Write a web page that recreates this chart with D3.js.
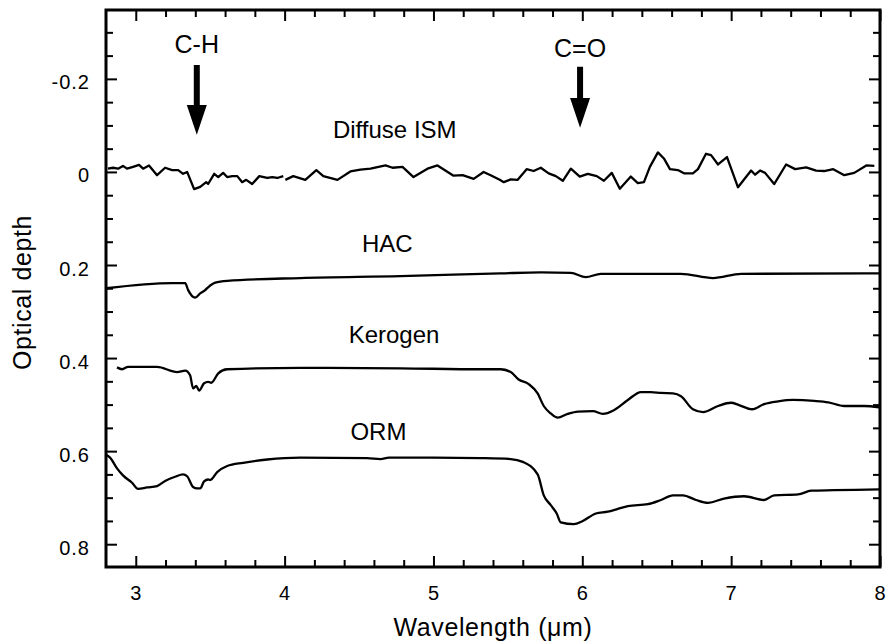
<!DOCTYPE html>
<html lang="en">
<head>
<meta charset="utf-8">
<title>Optical depth spectra</title>
<script src="https://cdn.jsdelivr.net/npm/d3@7"></script>
<style>
	body { margin: 0; background: #fff; }
	text { font-family: "Liberation Sans", Arial, Helvetica, sans-serif; fill: #000; }
</style>
</head>
<body>
<script>

// Diffuse ISM (noisy, one gap near 4 um marked with null)
var ismWave = [2.813, 2.847, 2.881, 2.914, 2.941, 2.982, 3.022, 3.049, 3.089, 3.143, 3.197, 3.244, 3.285, 3.318, 3.345, 3.392, 3.433, 3.473, 3.486, 3.527, 3.554, 3.587, 3.614, 3.648, 3.682, 3.715, 3.742, 3.782, 3.830, 3.883, 3.917, 3.951, 3.991,
	null,
	4.005, 4.058, 4.139, 4.213, 4.260, 4.355, 4.442, 4.509, 4.577, 4.678, 4.725, 4.792, 4.866, 4.960, 5.027, 5.135, 5.196, 5.270, 5.337, 5.384, 5.445, 5.472, 5.519, 5.566, 5.626, 5.673, 5.721, 5.774, 5.822, 5.869, 5.923, 5.983, 6.037, 6.097, 6.145, 6.198, 6.252, 6.326, 6.373, 6.414, 6.454, 6.508, 6.548, 6.589, 6.642, 6.683, 6.743, 6.777, 6.831, 6.865, 6.912, 6.972, 7.046, 7.134, 7.161, 7.194, 7.228, 7.289, 7.369, 7.430, 7.504, 7.571, 7.625, 7.686, 7.760, 7.827, 7.908, 7.962];
var ismDepth = [-0.007, -0.009, -0.007, -0.013, -0.007, -0.011, -0.015, -0.007, -0.014, 0.007, -0.009, -0.004, -0.004, 0.004, 0.000, 0.037, 0.032, 0.022, 0.026, 0.004, 0.011, 0.002, 0.011, 0.009, 0.009, 0.022, 0.017, 0.026, 0.009, 0.013, 0.011, 0.013, 0.009,
	null,
	0.017, 0.009, 0.017, -0.004, 0.009, 0.017, -0.001, -0.005, -0.007, -0.014, -0.009, -0.011, 0.011, -0.007, -0.014, 0.008, 0.007, 0.015, 0.000, 0.007, 0.017, 0.022, 0.016, 0.017, -0.006, -0.002, -0.009, 0.003, 0.009, 0.019, -0.007, 0.010, 0.004, 0.009, 0.019, 0.002, 0.036, 0.010, 0.024, 0.022, -0.011, -0.042, -0.029, -0.006, -0.004, 0.003, 0.003, -0.006, -0.039, -0.036, -0.016, -0.032, 0.033, -0.003, 0.006, -0.003, 0.002, 0.026, -0.016, -0.006, -0.010, -0.003, -0.002, -0.006, 0.007, 0.002, -0.014, -0.013];

// HAC
var hacWave  = [2.800, 3.244, 3.332, 3.352, 3.399, 3.433, 3.466, 3.486, 3.534, 3.614, 4.106, 4.778, 5.451, 5.721, 5.923, 6.023, 6.124, 6.663, 6.878, 7.067, 8.000];
var hacDepth = [0.250, 0.239, 0.239, 0.254, 0.270, 0.261, 0.254, 0.248, 0.238, 0.234, 0.228, 0.224, 0.218, 0.216, 0.217, 0.226, 0.219, 0.219, 0.228, 0.219, 0.218];

// Kerogen
var kerWave  = [2.874, 2.908, 2.948, 3.143, 3.278, 3.332, 3.365, 3.385, 3.406, 3.426, 3.459, 3.486, 3.507, 3.554, 3.614, 4.106, 4.778, 5.317, 5.451, 5.519, 5.572, 5.640, 5.700, 5.741, 5.788, 5.835, 5.902, 5.970, 6.071, 6.138, 6.212, 6.306, 6.394, 6.461, 6.528, 6.609, 6.663, 6.743, 6.811, 6.912, 6.999, 7.053, 7.141, 7.221, 7.316, 7.416, 7.558, 7.652, 7.760, 7.894, 7.995];
var kerDepth = [0.420, 0.424, 0.419, 0.419, 0.430, 0.427, 0.437, 0.465, 0.460, 0.470, 0.454, 0.451, 0.453, 0.433, 0.424, 0.421, 0.422, 0.424, 0.424, 0.430, 0.446, 0.456, 0.476, 0.503, 0.519, 0.528, 0.520, 0.515, 0.514, 0.520, 0.512, 0.490, 0.473, 0.473, 0.475, 0.476, 0.482, 0.510, 0.516, 0.503, 0.496, 0.501, 0.510, 0.499, 0.493, 0.490, 0.492, 0.495, 0.503, 0.503, 0.506];

// ORM
var ormWave  = [2.800, 2.827, 2.874, 2.914, 2.975, 3.015, 3.076, 3.143, 3.197, 3.264, 3.318, 3.345, 3.385, 3.412, 3.433, 3.459, 3.486, 3.500, 3.547, 3.614, 3.722, 3.883, 4.106, 4.556, 4.644, 4.700, 5.000, 5.317, 5.519, 5.600, 5.700, 5.741, 5.788, 5.828, 5.855, 5.943, 6.003, 6.091, 6.171, 6.239, 6.306, 6.441, 6.528, 6.609, 6.676, 6.764, 6.844, 6.952, 7.087, 7.221, 7.289, 7.450, 7.538, 7.692, 7.995];
var ormDepth = [0.608, 0.614, 0.637, 0.652, 0.668, 0.681, 0.678, 0.675, 0.664, 0.655, 0.650, 0.654, 0.677, 0.680, 0.680, 0.665, 0.661, 0.662, 0.645, 0.632, 0.625, 0.618, 0.614, 0.615, 0.617, 0.614, 0.614, 0.615, 0.617, 0.623, 0.650, 0.695, 0.716, 0.734, 0.753, 0.757, 0.750, 0.734, 0.730, 0.724, 0.718, 0.714, 0.705, 0.695, 0.695, 0.705, 0.711, 0.702, 0.697, 0.705, 0.695, 0.693, 0.685, 0.684, 0.682];

// Axis ticks
var xTicks = [3, 4, 5, 6, 7, 8];
var yTicks = [-0.2, 0, 0.2, 0.4, 0.6, 0.8];

// Labels and arrows (wavelength, depth)
var seriesLabels = [
	{ text: "Diffuse ISM", x: 4.74, y: -0.073 },
	{ text: "HAC",         x: 4.69, y: 0.172 },
	{ text: "Kerogen",     x: 4.735, y: 0.368 },
	{ text: "ORM",         x: 4.63, y: 0.576 }
];
var bandLabels = [
	{ text: "C-H", x: 3.41, y: -0.256, top: -0.230, head: -0.144, tip: -0.080 },
	{ text: "C=O", x: 5.985, y: -0.247, top: -0.226, head: -0.159, tip: -0.095 }
];

//Width and height
var w = 890;
var h = 643;

var xScale = d3.scaleLinear().domain([2.8, 8]).range([106, 880]);
var yScale = d3.scaleLinear().domain([-0.348, 0.849]).range([10, 567]);

var svg = d3.select("body")
	.append("svg")
	.attr("width", w)
	.attr("height", h);

svg.append("rect").attr("width", w).attr("height", h).attr("fill", "#fff");

var x0 = xScale.range()[0], x1 = xScale.range()[1];
var y0 = yScale.range()[0], y1 = yScale.range()[1];

//minor ticks (skip majors)
var xMinor = d3.range(28, 81, 2).map(function(d) { return d / 10; })
	.filter(function(d) { return xTicks.indexOf(d) < 0 && d > 2.8; });
var yMinor = d3.range(-30, 85, 5).map(function(d) { return d / 100; })
	.filter(function(d) { return yTicks.indexOf(d) < 0; });

function fmt(d) { return String(+d.toFixed(1)); }

function addAxis(axis, tx, ty) {
	var g = svg.append("g")
		.attr("transform", "translate(" + tx + "," + ty + ")")
		.call(axis);
	g.select(".domain").remove();
	g.selectAll(".tick line").attr("stroke", "#000").attr("stroke-width", 2);
	return g;
}

// bottom + left with labels
var gx = addAxis(d3.axisBottom(xScale).tickValues(xTicks).tickSize(-11).tickPadding(20).tickFormat(fmt), 0, y1);
addAxis(d3.axisBottom(xScale).tickValues(xMinor).tickSize(-7).tickFormat(""), 0, y1);
var gy = addAxis(d3.axisLeft(yScale).tickValues(yTicks).tickSize(-11).tickPadding(16).tickFormat(fmt), x0, 0);
addAxis(d3.axisLeft(yScale).tickValues(yMinor).tickSize(-7).tickFormat(""), x0, 0);

// top + right, ticks only
addAxis(d3.axisTop(xScale).tickValues(xTicks).tickSize(-11).tickFormat(""), 0, y0);
addAxis(d3.axisTop(xScale).tickValues(xMinor).tickSize(-7).tickFormat(""), 0, y0);
addAxis(d3.axisRight(yScale).tickValues(yTicks).tickSize(-11).tickFormat(""), x1, 0);
addAxis(d3.axisRight(yScale).tickValues(yMinor).tickSize(-7).tickFormat(""), x1, 0);

gx.selectAll(".tick text")
	.attr("font-size", 20).attr("font-family", null).attr("letter-spacing", 1).attr("dy", "0.66em");
gy.selectAll(".tick text")
	.attr("font-size", 20).attr("font-family", null).attr("letter-spacing", 1).attr("dy", "0.5em");

// frame
svg.append("rect")
	.attr("x", x0).attr("y", y0)
	.attr("width", x1 - x0).attr("height", y1 - y0)
	.attr("fill", "none").attr("stroke", "#000").attr("stroke-width", 3);

// curves
var lineJag = d3.line()
	.defined(function(d) { return d[0] != null; })
	.x(function(d) { return xScale(d[0]); })
	.y(function(d) { return yScale(d[1]); });

var lineSmooth = d3.line()
	.curve(d3.curveMonotoneX)
	.x(function(d) { return xScale(d[0]); })
	.y(function(d) { return yScale(d[1]); });

var series = [
	{ pts: d3.zip(ismWave, ismDepth), gen: lineJag },
	{ pts: d3.zip(hacWave, hacDepth), gen: lineSmooth },
	{ pts: d3.zip(kerWave, kerDepth), gen: lineSmooth },
	{ pts: d3.zip(ormWave, ormDepth), gen: lineSmooth }
];

svg.selectAll("path.spec")
	.data(series)
	.enter()
	.append("path")
	.attr("class", "spec")
	.attr("d", function(d) { return d.gen(d.pts); })
	.attr("fill", "none")
	.attr("stroke", "#000")
	.attr("stroke-width", 2.3)
	.attr("stroke-linejoin", "round");

// series labels
svg.selectAll("text.lab")
	.data(seriesLabels)
	.enter()
	.append("text")
	.attr("class", "lab")
	.attr("x", function(d) { return xScale(d.x); })
	.attr("y", function(d) { return yScale(d.y); })
	.attr("text-anchor", "middle")
	.attr("font-size", 24)
	.text(function(d) { return d.text; });

// band labels + arrows
svg.selectAll("text.band")
	.data(bandLabels)
	.enter()
	.append("text")
	.attr("class", "band")
	.attr("x", function(d) { return xScale(d.x); })
	.attr("y", function(d) { return yScale(d.y); })
	.attr("text-anchor", "middle")
	.attr("font-size", 25)
	.text(function(d) { return d.text; });

svg.selectAll("path.arrow")
	.data(bandLabels)
	.enter()
	.append("path")
	.attr("class", "arrow")
	.attr("d", function(d) {
		var cx = xScale(d.x), t = yScale(d.top), m = yScale(d.head), b = yScale(d.tip);
		return "M" + (cx - 3) + "," + t + "H" + (cx + 3) + "V" + m + "H" + (cx + 10) +
			"L" + cx + "," + b + "L" + (cx - 10) + "," + m + "H" + (cx - 3) + "Z";
	})
	.attr("fill", "#000");

// axis titles
svg.append("text")
	.attr("x", (x0 + x1) / 2)
	.attr("y", 636)
	.attr("text-anchor", "middle")
	.attr("font-size", 25)
	.attr("letter-spacing", 0.6)
	.text("Wavelength (μm)");

svg.append("text")
	.attr("transform", "translate(31," + ((y0 + y1) / 2 + 4) + ") rotate(-90)")
	.attr("text-anchor", "middle")
	.attr("font-size", 25)
	.attr("letter-spacing", 0.6)
	.text("Optical depth");

</script>
</body>
</html>
